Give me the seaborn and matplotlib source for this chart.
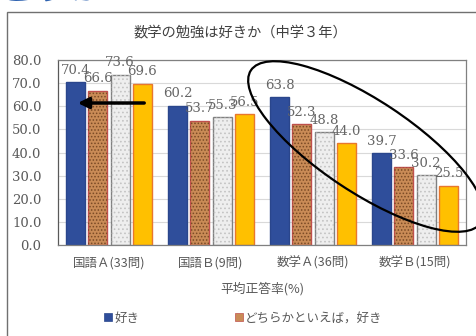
import matplotlib
matplotlib.use("Agg")
import matplotlib.pyplot as plt
import seaborn as sns
import pandas as pd
from matplotlib.patches import Ellipse, Rectangle, Patch
from matplotlib.transforms import IdentityTransform

categories = ["国語Ａ(33問)", "国語Ｂ(9問)", "数学Ａ(36問)", "数学Ｂ(15問)"]
series = ["好き", "どちらかといえば，好き", "どちらかといえば，好きではない", "好きではない"]
v_like = [70.4, 60.2, 63.8, 39.7]
v_rather_like = [66.6, 53.7, 52.3, 33.6]
v_rather_dislike = [73.6, 55.3, 48.8, 30.2]
v_dislike = [69.6, 56.5, 44.0, 25.5]
yticks = [0, 10, 20, 30, 40, 50, 60, 70, 80]
title = "数学の勉強は好きか（中学３年）"
xlabel = "平均正答率(%)"

values = [v_like, v_rather_like, v_rather_dislike, v_dislike]
rows = []
for s, vals in zip(series, values):
    for c, v in zip(categories, vals):
        rows.append({"cat": c, "series": s, "val": v})
df = pd.DataFrame(rows)

face = ["#2F4E9B", "#C98B56", "#EEEEEE", "#FFC000"]
edge = ["#2A468C", "#C0504D", "#808080", "#E8772E"]
hatch = [None, ".....", "....", None]
hatch_col = [None, "#7A4A25", "#C4C4C4", None]

sns.set_theme(style="white")
plt.rcParams["font.family"] = ["Noto Sans CJK JP", "DejaVu Sans"]
plt.rcParams["hatch.linewidth"] = 0.7

fig = plt.figure(figsize=(4.76, 3.36), dpi=100)
ax = fig.add_axes([58 / 476, 1 - 245 / 336, 408 / 476, 185 / 336])

sns.barplot(data=df, x="cat", y="val", hue="series", hue_order=series,
            palette=face, saturation=1, width=0.875, gap=0.15, legend=False, ax=ax,
            errorbar=None)

for i, cont in enumerate(ax.containers):
    for bar in cont:
        bar.set_edgecolor(edge[i])
        bar.set_linewidth(1.0)
        if hatch[i]:
            r = Rectangle(bar.get_xy(), bar.get_width(), bar.get_height(),
                          facecolor="none", edgecolor=hatch_col[i],
                          hatch=hatch[i], linewidth=0, zorder=bar.get_zorder() + 0.1)
            ax.add_patch(r)
    ax.bar_label(cont, fmt="%.1f", padding=4, fontsize=9.5,
                 family="DejaVu Serif", color="#666666")

ax.set_xlim(-0.5, 3.5)
ax.set_ylim(0, 80)
ax.set_yticks(yticks)
ax.set_yticklabels([f"{t:.1f}" for t in yticks], family="DejaVu Serif",
                   fontsize=9.5, color="#595959")
ax.set_xticks(range(len(categories)))
ax.set_xticklabels(categories, fontsize=9, color="#595959")
ax.tick_params(axis="y", length=0, pad=12)
ax.tick_params(axis="x", length=0, pad=8)
ax.set_xlabel(xlabel, fontsize=9.2, color="#595959", labelpad=9)
ax.set_ylabel("")
ax.yaxis.grid(True, color="#D9D9D9", linewidth=0.8)
ax.set_axisbelow(True)
for name, sp in ax.spines.items():
    sp.set_color("#808080")
    sp.set_linewidth(0.9)
ax.spines["left"].set_color("#595959")

fig.text(240 / 476, 1 - 32 / 336, title, ha="center", va="center",
         fontsize=10.3, color="#404040")

handles = [Patch(facecolor=face[i], edgecolor=edge[i], linewidth=0.5) for i in range(4)]
leg = fig.legend(handles, series, loc="center left",
                 bbox_to_anchor=(104 / 476, 1 - 318 / 336), ncol=4, frameon=False,
                 fontsize=9, handlelength=0.6, handleheight=0.6, handletextpad=0.2,
                 columnspacing=7.7, borderpad=0, borderaxespad=0)
for t in leg.get_texts():
    t.set_color("#595959")

# outer chart frame
fig.add_artist(Rectangle((7 / 476, -0.2), 1.2, 1.2 - 12 / 336, transform=fig.transFigure,
                         facecolor="none", edgecolor="#707070", linewidth=1.0))

# partial blue heading at very top
fig.text(-2 / 476, 1 - 7 / 336, "どうか", ha="left", va="bottom",
         fontsize=26, color="#2E62B0", fontweight="bold")

# annotations: arrow and ellipse
ax.annotate("", xy=(75, 336 - 103), xytext=(147, 336 - 103),
            xycoords="figure pixels", textcoords="figure pixels",
            arrowprops=dict(arrowstyle="-|>", color="black", lw=2.5, mutation_scale=16),
            annotation_clip=False)
fig.add_artist(Ellipse((366, 336 - 146.5), 276, 92, angle=-33.5,
                       transform=IdentityTransform(), facecolor="none",
                       edgecolor="black", linewidth=1.6))

fig.savefig("out.png", dpi=100)
